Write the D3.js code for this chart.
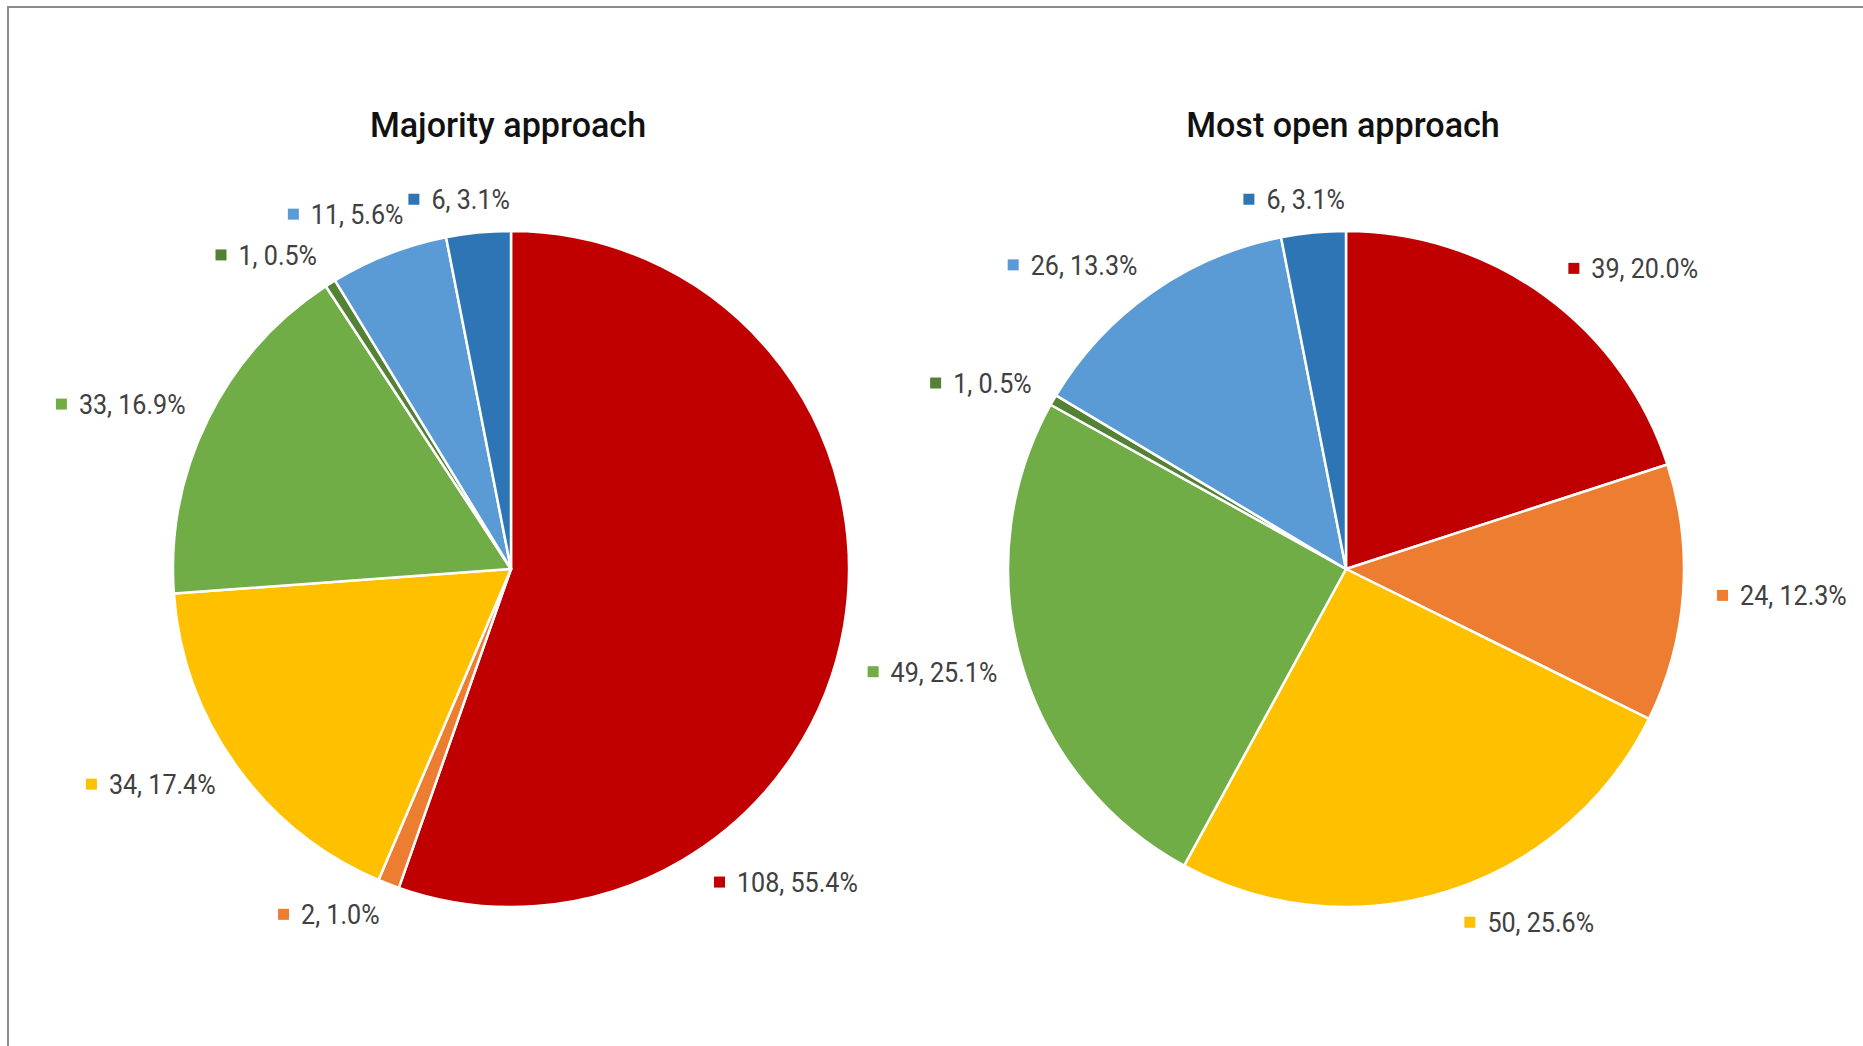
<!DOCTYPE html>
<html>
<head>
<meta charset="utf-8">
<script src="https://cdn.jsdelivr.net/npm/d3@7"></script>
<style>
    body { margin: 0; background: #fff; }
    svg { display: block; }
</style>
</head>
<body>
<script>
window.document.addEventListener('DOMContentLoaded', init, false);

var chartTitles = ['Majority approach', 'Most open approach'];
var majorityValues = [108, 2, 34, 33, 1, 11, 6];
var mostOpenValues = [39, 24, 50, 49, 1, 26, 6];
var sliceColors = ['#C00000', '#ED7D31', '#FFC000', '#70AD47', '#548235', '#5B9BD5', '#2E75B6'];
// a few labels sit off their slice centre (degrees)
var majorityLabelTurn = [48, 0, 0, 0, 0, 4, 0];
var mostOpenLabelTurn = [0, 0, 0, 0, 0, 0, 0];

var width = 1863;
var height = 1046;
var radius = 338;
var centreY = 569;
var labelGapX = 25;
var labelGapY = 21;
var labelPad = 9;
var labelSquash = 0.93;
var titleSquash = 0.975;

var svg;
var pct = d3.format('.1%');

var centreX = d3.scalePoint()
                .domain(chartTitles)
                .range([511, 1346]);

var pie = d3.pie()
            .sort(null)
            .value(function(d) { return d; });

var arc = d3.arc()
            .innerRadius(0)
            .outerRadius(radius);

function init() {
    svg = createCanvas();
    drawFrame();
    drawPie(chartTitles[0], majorityValues, majorityLabelTurn);
    drawPie(chartTitles[1], mostOpenValues, mostOpenLabelTurn);
}

function createCanvas() {
    return d3.select('body')
        .append('svg')
        .attr('width', width)
        .attr('height', height)
        .style('font-family', 'Roboto, "Noto Sans", sans-serif');
}

function drawFrame() {
    svg.append('rect')
        .attr('x', 8)
        .attr('y', 7)
        .attr('width', width + 50)
        .attr('height', height + 50)
        .attr('fill', 'none')
        .attr('stroke', '#8c8c8c')
        .attr('stroke-width', 2);
}

function drawPie(title, values, turns) {
    var total = d3.sum(values);
    var g = svg.append('g')
        .attr('transform', `translate(${centreX(title)}, ${centreY})`);

    g.append('text')
        .attr('text-anchor', 'middle')
        .attr('font-size', 35)
        .attr('font-weight', 500)
        .attr('fill', '#111')
        .attr('transform', `translate(-3, ${137 - centreY}) scale(${titleSquash}, 1)`)
        .text(title);

    var arcs = pie(values);

    g.selectAll('path')
        .data(arcs)
        .enter()
            .append('path')
            .attr('d', arc)
            .attr('fill', function(d, i) { return sliceColors[i]; })
            .attr('stroke', '#fff')
            .attr('stroke-width', 2.5)
            .attr('stroke-linejoin', 'round');

    arcs.forEach(function(d, i) {
        drawLabel(g, d, i, total, turns[i]);
    });
}

function drawLabel(g, d, i, total, turn) {
    var boxH = 24;
    var lab = g.append('g');

    lab.append('rect')
        .attr('x', labelPad)
        .attr('y', boxH / 2 - 6)
        .attr('width', 11)
        .attr('height', 11)
        .attr('fill', sliceColors[i]);

    var txt = lab.append('text')
        .attr('font-size', 27)
        .attr('fill', '#404040')
        .attr('transform', `translate(${labelPad + 23}, ${boxH / 2 + 9.6}) scale(${labelSquash}, 1)`)
        .text(d.value + ', ' + pct(d.value / total));

    var boxW = labelPad + 23 + txt.node().getComputedTextLength() * labelSquash;

    var a = (d.startAngle + d.endAngle) / 2 + turn * Math.PI / 180;
    var px = (radius + labelGapX) * Math.sin(a);
    var py = -(radius + labelGapY) * Math.cos(a);
    var side = Math.max(-1, Math.min(1, Math.sin(a) * 4));
    var cx = px + side * boxW / 2;
    var cy = py - Math.cos(a) * boxH / 2;

    lab.attr('transform', `translate(${cx - boxW / 2}, ${cy - boxH / 2})`);
}
</script>
</body>
</html>
